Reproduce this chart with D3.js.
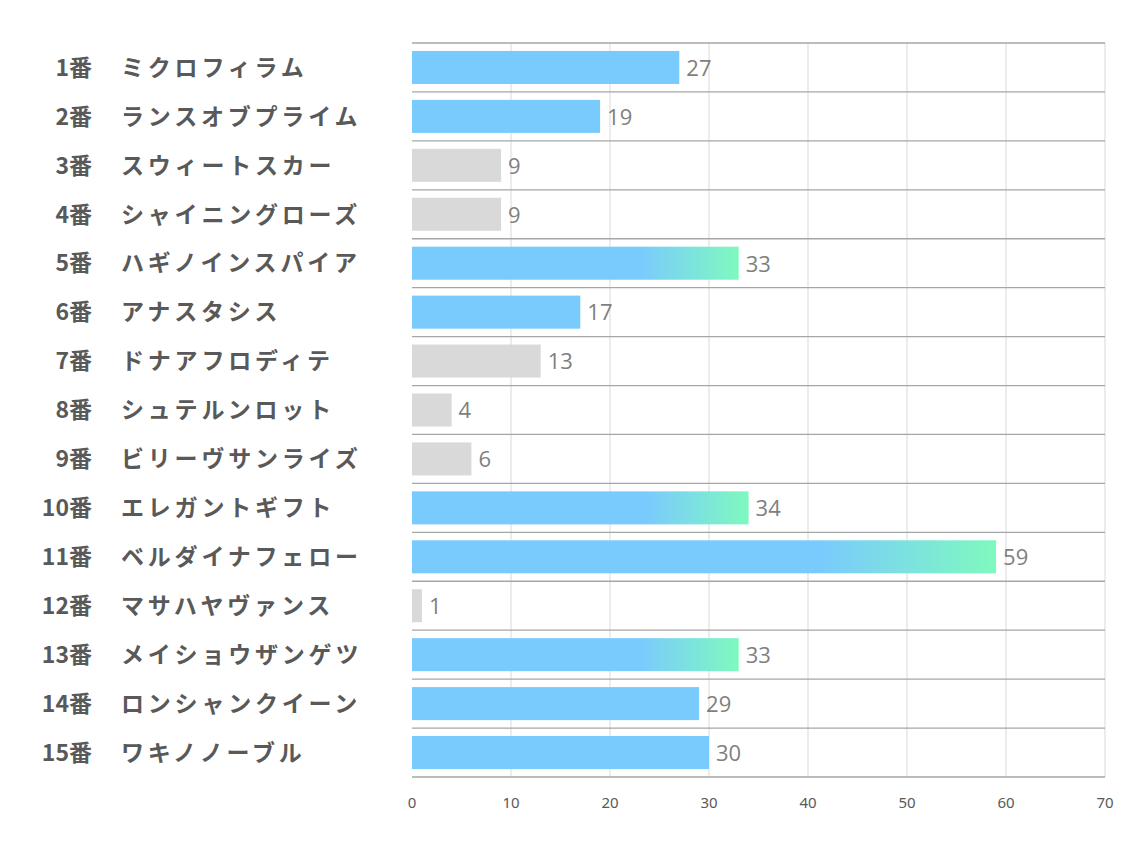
<!DOCTYPE html>
<html lang="ja">
<head>
<meta charset="UTF-8">
<title>出走馬</title>
<script src="https://d3js.org/d3.v7.min.js"></script>
<style>
  body { margin: 0; background: #fff; }
  .num, .name { font-family: "Noto Sans CJK JP", sans-serif; font-weight: bold; fill: #595959; }
  .val { font-family: "Open Sans", "Noto Sans", sans-serif; fill: #7f7f7f; }
  .tick-label { font-family: "Noto Sans", sans-serif; fill: #595959; }
</style>
</head>
<body>
<svg width="1134" height="850"></svg>
<script>
const numbers = ["1番","2番","3番","4番","5番","6番","7番","8番","9番","10番","11番","12番","13番","14番","15番"];
const horses = ["ミクロフィラム","ランスオブプライム","スウィートスカー","シャイニングローズ","ハギノインスパイア",
  "アナスタシス","ドナアフロディテ","シュテルンロット","ビリーヴサンライズ","エレガントギフト",
  "ベルダイナフェロー","マサハヤヴァンス","メイショウザンゲツ","ロンシャンクイーン","ワキノノーブル"];
const values = [27, 19, 9, 9, 33, 17, 13, 4, 6, 34, 59, 1, 33, 29, 30];
const ticks = [0, 10, 20, 30, 40, 50, 60, 70];

const svg = d3.select("svg");
const x = d3.scaleLinear().domain([0, 70]).range([412, 1105]);
const y = d3.scaleBand().domain(numbers).range([43, 777]).paddingInner(0.325).paddingOuter(0.1625);

const defs = svg.append("defs");
const grad = defs.append("linearGradient").attr("id", "grad")
  .attr("x1", "0%").attr("x2", "100%").attr("y1", "0%").attr("y2", "0%");
grad.append("stop").attr("offset", "0%").attr("stop-color", "#7acbfd");
grad.append("stop").attr("offset", "70%").attr("stop-color", "#7acbfd");
grad.append("stop").attr("offset", "100%").attr("stop-color", "#7ff9bf");

function barFill(v) {
  if (v < 15) return "#d9d9d9";
  if (v > 30) return "url(#grad)";
  return "#7acbfd";
}

// vertical grid
svg.append("g").selectAll("line").data(ticks.slice(1)).enter().append("line")
  .attr("x1", d => x(d)).attr("x2", d => x(d))
  .attr("y1", 43).attr("y2", 777)
  .attr("stroke", "#d9d9d9").attr("stroke-width", 1);

// row separators
const step = y.step();
svg.append("g").selectAll("line").data(d3.range(numbers.length + 1)).enter().append("line")
  .attr("x1", x(0)).attr("x2", x(70))
  .attr("y1", i => 43 + i * step).attr("y2", i => 43 + i * step)
  .attr("stroke", "#a6a6a6").attr("stroke-width", 1.3);

// bars
svg.append("g").selectAll("rect").data(values).enter().append("rect")
  .attr("x", x(0))
  .attr("y", (d, i) => y(numbers[i]))
  .attr("width", d => x(d) - x(0))
  .attr("height", y.bandwidth())
  .attr("fill", d => barFill(d));

// value labels
svg.append("g").selectAll("text").data(values).enter().append("text")
  .attr("class", "val")
  .attr("x", d => x(d) + 7)
  .attr("y", (d, i) => y(numbers[i]) + y.bandwidth() / 2)
  .attr("dy", "0.38em")
  .attr("font-size", 22)
  .text(d => d);

// category labels
const lab = svg.append("g");
lab.selectAll("text.num").data(numbers).enter().append("text")
  .attr("class", "num")
  .attr("x", 92)
  .attr("y", d => y(d) + y.bandwidth() / 2)
  .attr("dy", "0.36em")
  .attr("text-anchor", "end")
  .attr("font-size", 23)
  .text(d => d);
lab.selectAll("text.name").data(horses).enter().append("text")
  .attr("class", "name")
  .attr("x", 121)
  .attr("y", (d, i) => y(numbers[i]) + y.bandwidth() / 2)
  .attr("dy", "0.36em")
  .attr("font-size", 23)
  .attr("letter-spacing", 3.8)
  .text(d => d);

// x tick labels
svg.append("g").selectAll("text").data(ticks).enter().append("text")
  .attr("class", "tick-label")
  .attr("x", d => x(d))
  .attr("y", 808)
  .attr("text-anchor", "middle")
  .attr("font-size", 15)
  .text(d => d);
</script>
</body>
</html>
